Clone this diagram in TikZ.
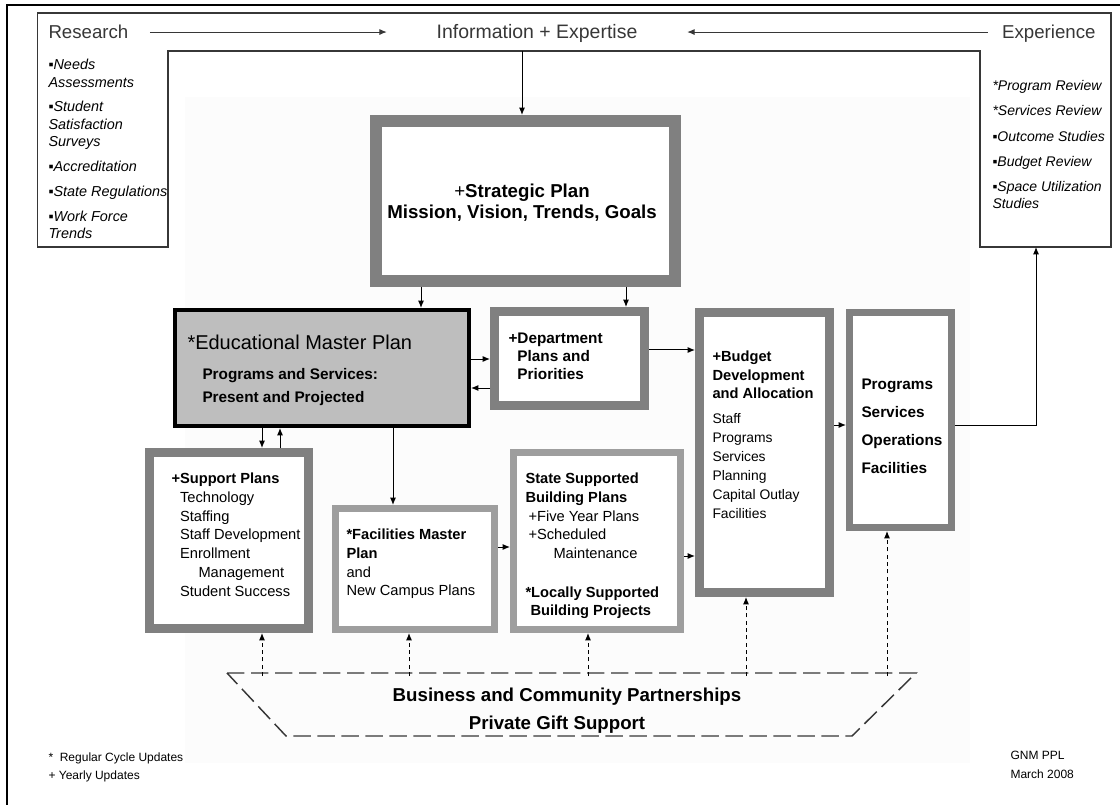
\documentclass[tikz,border=0pt]{standalone}
\usepackage{fontspec}
\setmainfont{Liberation Sans}
\usetikzlibrary{arrows.meta}
\definecolor{boxgray}{RGB}{128,128,128}
\definecolor{litegray}{RGB}{158,158,158}
\definecolor{empfill}{RGB}{190,190,190}
\definecolor{backgr}{RGB}{252,252,252}
\definecolor{linegray}{RGB}{55,55,55}
\newcommand{\fsz}[2]{\fontsize{#1}{#2}\selectfont}
\tikzset{
  planbox/.style={draw=boxgray,fill=white,inner sep=0pt},
  txt/.style={inner sep=0pt,anchor=north west,align=left},
  lbl/.style={inner sep=0pt,text=linegray,font=\fsz{14}{17}},
  gift/.style={->,dash pattern=on 3pt off 2.5pt},
  partner/.style={linegray,line width=1.1pt,dash pattern=on 13pt off 5pt}
}
\begin{document}
\begin{tikzpicture}[x=0.75pt,y=-0.75pt,line width=0.75pt,>={Latex[length=5.5pt,width=4.5pt]}]
\useasboundingbox (0,0) rectangle (1120,805);
\fill[backgr] (185,97) rectangle (970,763);
\draw[line width=1.5pt] (7,820) -- (7,5) -- (1130,5);
\draw[linegray,line width=1pt] (37.5,13) -- (1111,13) -- (1111,247) -- (980,247) -- (980,51) -- (168,51) -- (168,247) -- (37.5,247) -- cycle;
\coordinate (ubar) at (522,51);
\coordinate (expbot) at (1036,247);

\node[lbl,anchor=base west] (research) at (48,38.7) {Research};
\node[lbl,anchor=base,font=\fsz{14.6}{17}] (info) at (537,38.7) {Information + Expertise};
\node[lbl,anchor=base east] (experience) at (1096,38.7) {Experience};
\draw[->,linegray,shorten <=15.75pt,shorten >=37pt] (research.east) -- (research.east -| info.west);
\draw[->,linegray,shorten <=10.5pt,shorten >=37pt] (experience.west |- research.east) -- (info.east |- research.east);

\node[txt,font=\fsz{10.8}{13.1}\itshape] (reslist) at (48,58.7) {▪Needs\\Assessments\\[5.5pt]▪Student\\Satisfaction\\Surveys\\[5.5pt]▪Accreditation\\[5.5pt]▪State Regulations\\[5.5pt]▪Work Force\\Trends};
\node[txt,font=\fsz{10.5}{12.4}\itshape] (explist) at (992,79.9) {*Program Review\\[6.6pt]*Services Review\\[6.6pt]▪Outcome Studies\\[6.6pt]▪Budget Review\\[6.6pt]▪Space Utilization\\Studies};

\node[planbox,line width=9pt,minimum width=224.25pt,minimum height=120pt] (strat) at (525.5,201) {};
\node[inner sep=0pt,anchor=north,align=center,font=\fsz{14}{15.75}] (strattxt) at (522,183.2) {+\textbf{Strategic Plan}\\\textbf{Mission, Vision, Trends, Goals}};

\node[draw=black,fill=empfill,line width=3pt,inner sep=0pt,minimum width=220.5pt,minimum height=87pt] (emp) at (322,368) {};
\node[txt,font=\fsz{15}{18}] (emptitle) at (187,334.7) {*Educational Master Plan};
\node[txt,font=\fsz{11.5}{17.25}\bfseries] (emptxt) at (202,367.4) {Programs and Services:\\Present and Projected};

\node[planbox,line width=6.75pt,minimum width=112.5pt,minimum height=70.5pt] (dept) at (569.5,358.5) {};
\node[txt,font=\fsz{11.5}{13.5}\bfseries] (depttxt) at (508,332.4) {+Department\\\phantom{+}Plans and\\\phantom{+}Priorities};

\node[planbox,line width=6.75pt,minimum width=97.5pt,minimum height=210pt] (budget) at (764.5,452.5) {};
\node[txt,font=\fsz{11}{13.9}\bfseries] (budtxt) at (712,350.6) {+Budget\\Development\\and Allocation};
\node[txt,font=\fsz{10.4}{14.25}] (budlist) at (712,412.9) {Staff\\Programs\\Services\\Planning\\Capital Outlay\\Facilities};

\node[planbox,line width=5.25pt,minimum width=76.5pt,minimum height=161.25pt] (progs) at (900.5,420) {};
\node[txt,font=\fsz{11.5}{21}\bfseries] (progstxt) at (861,378.4) {Programs\\Services\\Operations\\Facilities};

\node[planbox,line width=6.75pt,minimum width=119.25pt,minimum height=132pt] (support) at (229,540.5) {};
\node[txt,font=\fsz{11}{14.1}] (supptxt) at (171,472.4) {\textbf{+Support Plans}\\\phantom{+}Technology\\\phantom{+}Staffing\\\phantom{+}Staff Development\\\phantom{+}Enrollment\\\hspace*{20.25pt}Management\\\phantom{+}Student Success};

\node[planbox,draw=litegray,line width=5.25pt,minimum width=119.25pt,minimum height=90.75pt] (fmp) at (415,569) {};
\node[txt,font=\fsz{11}{14}] (fmptxt) at (346,528.6) {\textbf{*Facilities Master}\\\textbf{Plan}\\and\\New Campus Plans};

\node[planbox,draw=litegray,line width=5.25pt,minimum width=125.25pt,minimum height=132.75pt] (state) at (597,541) {};
\node[txt,font=\fsz{11}{14}] (statetxt) at (525,472.6) {\textbf{State Supported}\\\textbf{Building Plans}\\\hspace*{2.25pt}+Five Year Plans\\\hspace*{2.25pt}+Scheduled\\\hspace*{21pt}Maintenance\\[15pt]\textbf{*Locally Supported}\\\hspace*{3.75pt}\textbf{Building Projects}};

\draw[->] (ubar) -- (ubar |- strat.north);
\draw[->] (strat.south -| 421,0) -- (emp.north -| 421,0);
\draw[->] (strat.south -| 626,0) -- (dept.north -| 626,0);
\draw[->] (emp.east |- 0,359) -- (dept.west |- 0,359);
\draw[->] (dept.west |- 0,388) -- (emp.east |- 0,388);
\draw[->] (dept.east |- 0,350) -- (budget.west |- 0,350);
\draw[->] (budget.east |- 0,425) -- (progs.west |- 0,425);
\draw[->] (progs.east |- 0,425) -| (expbot);
\draw[->] (emp.south -| 262,0) -- (support.north -| 262,0);
\draw[->] (support.north -| 280,0) -- (emp.south -| 280,0);
\draw[->] (emp.south -| 393,0) -- (fmp.north -| 393,0);
\draw[->] (fmp.east |- 0,547) -- (state.west |- 0,547);
\draw[->] (state.east |- 0,556) -- (budget.west |- 0,556);

\draw[partner] (227,673) -- (916,673) -- (852,736) -- (286,736) -- cycle;
\node[inner sep=0pt,anchor=base,font=\fsz{14}{16}\bfseries] (biz) at (567,701.5) {Business and Community Partnerships};
\node[inner sep=0pt,anchor=base,font=\fsz{14}{16}\bfseries] (gifts) at (557,729.5) {Private Gift Support};
\foreach \xx/\nn in {262/support,409/fmp,588/state,746/budget,887/progs}
  \draw[gift] (\xx,676) -- (\nn.south -| \xx,0);

\node[inner sep=0pt,anchor=base west,font=\fsz{9}{11}] (note1) at (48,761.3) {*\ \ Regular Cycle Updates};
\node[inner sep=0pt,anchor=base west,font=\fsz{9}{11}] (note2) at (48,779.3) {+ Yearly Updates};
\node[inner sep=0pt,anchor=base west,font=\fsz{9}{11}] (gnm) at (1010,759.3) {GNM PPL};
\node[inner sep=0pt,anchor=base west,font=\fsz{9}{11}] (date) at (1010,778.3) {March 2008};
\end{tikzpicture}
\end{document}
